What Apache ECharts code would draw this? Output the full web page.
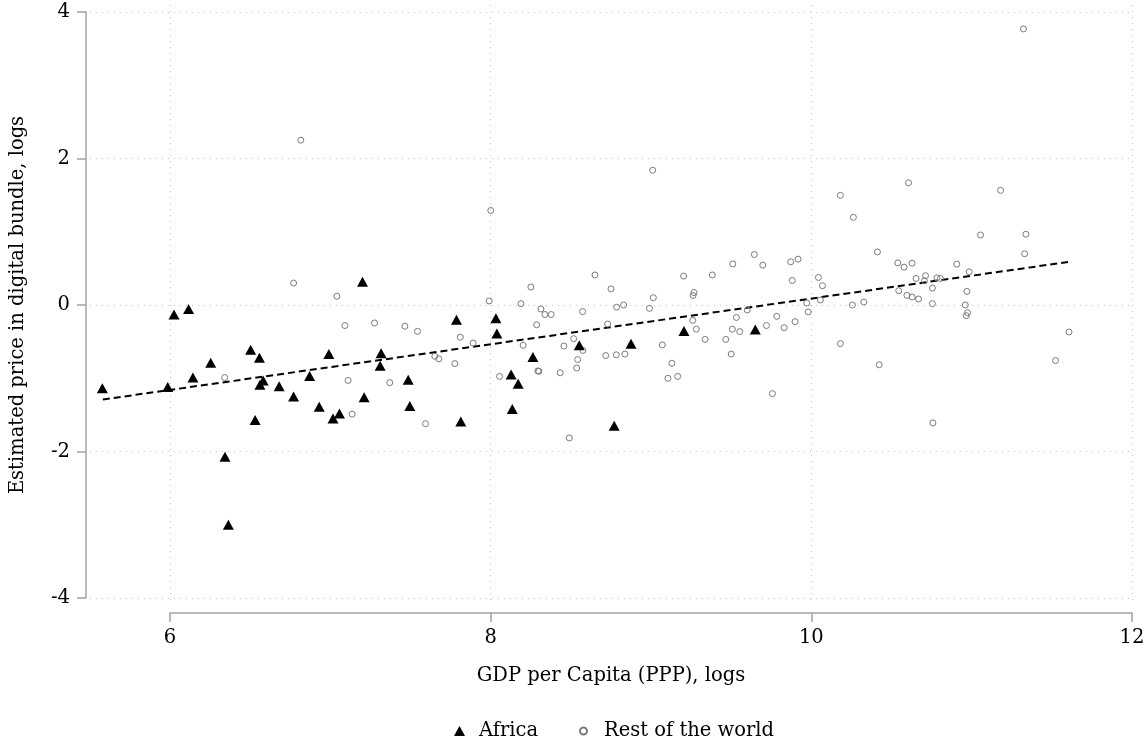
<!DOCTYPE html>
<html>
<head>
<meta charset="utf-8">
<script src="https://cdn.jsdelivr.net/npm/echarts@6/dist/echarts.min.js"></script>
<style>
    html, body { margin: 0; padding: 0; background: #fff; }
    #chartBox { width: 1148px; height: 746px; }
</style>
</head>
<body>
<div id="chartBox"></div>
<script>
// values
var africaX = [5.577, 6.024, 6.115, 5.985, 6.142, 6.253, 6.342, 6.363, 6.502, 6.557,
    6.53, 6.58, 6.56, 6.68, 6.77, 6.87, 6.99, 6.93, 7.016, 7.056,
    7.2, 7.316, 7.31, 7.21, 7.485, 7.495, 7.786, 7.813, 8.032, 8.038,
    8.127, 8.171, 8.134, 8.263, 8.552, 8.875, 8.77, 9.205, 9.65];
var africaY = [-1.135, -0.13, -0.055, -1.12, -0.99, -0.79, -2.07, -3.0, -0.61, -0.72,
    -1.57, -1.03, -1.09, -1.11, -1.25, -0.97, -0.67, -1.39, -1.55, -1.48,
    0.317, -0.66, -0.83, -1.26, -1.02, -1.38, -0.2, -1.59, -0.18, -0.39,
    -0.95, -1.075, -1.42, -0.71, -0.55, -0.53, -1.65, -0.354, -0.336];

var restX = [6.815, 6.77, 7.04, 7.09, 6.34, 7.11, 7.135, 7.275, 7.464, 7.543,
    7.37, 7.593, 7.651, 7.676, 7.776, 7.81, 7.89, 7.99, 8.0, 8.055,
    8.188, 8.202, 8.25, 8.286, 8.313, 8.338, 8.377, 8.294, 8.30, 8.433,
    8.456, 8.49, 8.517, 8.536, 8.542, 8.575, 8.573, 8.65, 8.717, 8.729,
    8.75, 8.783, 8.785, 8.829, 8.837, 9.01, 9.014, 8.99, 9.07, 9.13,
    9.105, 9.166, 9.203, 9.26, 9.268, 9.262, 9.282, 9.337, 9.382, 9.466,
    9.5, 9.507, 9.51, 9.532, 9.553, 9.6, 9.644, 9.697, 9.72, 9.757,
    9.784, 9.83, 9.871, 9.917, 9.881, 9.898, 9.971, 9.98, 10.044, 10.069,
    10.056, 10.181, 10.181, 10.262, 10.256, 10.327, 10.412, 10.423, 10.545, 10.606,
    11.18, 11.055, 11.338, 11.33, 10.539, 10.578, 10.628, 10.907, 10.653, 10.712,
    10.705, 10.783, 10.805, 10.984, 10.596, 10.629, 10.668, 10.755, 10.755, 10.97,
    10.96, 10.974, 10.966, 11.607, 11.523, 10.758, 11.323];
var restY = [2.25, 0.3, 0.12, -0.28, -0.99, -1.03, -1.49, -0.245, -0.29, -0.36,
    -1.06, -1.62, -0.7, -0.735, -0.8, -0.44, -0.52, 0.055, 1.29, -0.975,
    0.018, -0.55, 0.245, -0.27, -0.055, -0.13, -0.13, -0.9, -0.905, -0.925,
    -0.56, -1.815, -0.46, -0.86, -0.745, -0.62, -0.09, 0.41, -0.69, -0.26,
    0.22, -0.68, -0.03, 0.0, -0.67, 1.84, 0.1, -0.046, -0.545, -0.795,
    -1.0, -0.975, 0.394, -0.21, 0.17, 0.13, -0.33, -0.47, 0.41, -0.47,
    -0.67, -0.33, 0.56, -0.17, -0.363, -0.068, 0.69, 0.544, -0.28, -1.21,
    -0.155, -0.31, 0.59, 0.626, 0.335, -0.227, 0.027, -0.095, 0.376, 0.263,
    0.068, 1.497, -0.527, 1.197, 0.0, 0.04, 0.725, -0.816, 0.195, 1.668,
    1.565, 0.956, 0.966, 0.7, 0.575, 0.517, 0.571, 0.558, 0.362, 0.4,
    0.33, 0.371, 0.362, 0.453, 0.131, 0.109, 0.082, 0.231, 0.018, 0.185,
    0.0, -0.105, -0.146, -0.368, -0.758, -1.61, 3.769];

// fitted line end points
var fitX = [5.58, 11.61];
var fitY = [-1.29, 0.59];

var xTicks = [6, 8, 10, 12];
var yTicks = [-4, -2, 0, 2, 4];

function zipPoints(xs, ys) {
    var out = [];
    for (var i = 0; i < xs.length; i++) {
        out.push([xs[i], ys[i]]);
    }
    return out;
}

var fontName = 'DejaVu Serif';
var fontSz = 19.5;
var gridLine = {
    show: true,
    lineStyle: { color: '#c4c4c4', width: 1, type: [1, 5] }
};
var axisGray = { color: '#a3a3a3', width: 1.5 };

var myChart = echarts.init(document.getElementById('chartBox'));

var option = {
    backgroundColor: '#fff',
    animation: false,
    textStyle: { fontFamily: fontName },
    grid: [
        // plot region: data + horizontal grid + y axis
        { left: 90, top: 12, right: 16, bottom: 148, outerBoundsMode: 'none', containLabel: false },
        // vertical grid at 6..12
        { left: 170, top: 5, right: 16, bottom: 143, outerBoundsMode: 'none', containLabel: false },
        // x axis line set below the plot
        { left: 170, top: 5, right: 16, bottom: 133, outerBoundsMode: 'none', containLabel: false }
    ],
    legend: [
        {
            data: ['Africa'],
            left: 454, top: 721, padding: 0,
            icon: 'triangle', itemWidth: 11, itemHeight: 10,
            textStyle: { fontFamily: fontName, fontSize: fontSz, color: '#000', padding: [0, 0, 0, 9] }
        },
        {
            data: ['Rest of the world'],
            left: 579, top: 721, padding: 0,
            icon: 'circle', itemWidth: 7, itemHeight: 7,
            textStyle: { fontFamily: fontName, fontSize: fontSz, color: '#000', padding: [0, 0, 0, 12] }
        }
    ],
    xAxis: [
        {
            gridIndex: 0, type: 'value', min: 5.5, max: 12,
            name: 'GDP per Capita (PPP), logs',
            nameLocation: 'middle', nameGap: 68,
            nameTextStyle: { fontFamily: fontName, fontSize: fontSz, color: '#000' },
            axisLine: { show: false }, axisTick: { show: false },
            axisLabel: { show: false }, splitLine: { show: false }
        },
        {
            gridIndex: 1, type: 'value', min: xTicks[0], max: xTicks[xTicks.length - 1], interval: 2,
            axisLine: { show: false }, axisTick: { show: false },
            axisLabel: { show: false },
            splitLine: gridLine
        },
        {
            gridIndex: 2, type: 'value', min: xTicks[0], max: xTicks[xTicks.length - 1], interval: 2,
            axisLine: { show: true, lineStyle: axisGray },
            axisTick: { show: true, length: 9, lineStyle: axisGray },
            axisLabel: { margin: 15, fontFamily: fontName, fontSize: fontSz, color: '#000' },
            splitLine: { show: false }
        }
    ],
    yAxis: [
        {
            gridIndex: 0, type: 'value', min: yTicks[0], max: yTicks[yTicks.length - 1], interval: 2,
            offset: 4,
            name: 'Estimated price in digital bundle, logs',
            nameLocation: 'middle', nameGap: 58, nameRotate: 90,
            nameTextStyle: { fontFamily: fontName, fontSize: fontSz, color: '#000' },
            axisLine: { show: true, lineStyle: axisGray },
            axisTick: { show: true, length: 9, lineStyle: axisGray },
            axisLabel: { margin: 16, fontFamily: fontName, fontSize: fontSz, color: '#000' },
            splitLine: gridLine
        },
        { gridIndex: 1, type: 'value', min: 0, max: 1, show: false },
        { gridIndex: 2, type: 'value', min: 0, max: 1, show: false }
    ],
    series: [
        {
            name: 'Fit',
            type: 'line',
            xAxisIndex: 0, yAxisIndex: 0,
            data: zipPoints(fitX, fitY),
            showSymbol: false, silent: true,
            lineStyle: { color: '#000', width: 2, type: [7, 4] },
            z: 2
        },
        {
            name: 'Rest of the world',
            type: 'scatter',
            xAxisIndex: 0, yAxisIndex: 0,
            data: zipPoints(restX, restY),
            symbol: 'circle', symbolSize: 6,
            itemStyle: { color: 'rgba(255,255,255,0)', borderColor: '#7a7a7a', borderWidth: 1, opacity: 1 },
            z: 3
        },
        {
            name: 'Africa',
            type: 'scatter',
            xAxisIndex: 0, yAxisIndex: 0,
            data: zipPoints(africaX, africaY),
            symbol: 'triangle', symbolSize: [11, 10],
            itemStyle: { color: '#000', opacity: 1 },
            z: 4
        }
    ]
};

myChart.setOption(option);
</script>
</body>
</html>
